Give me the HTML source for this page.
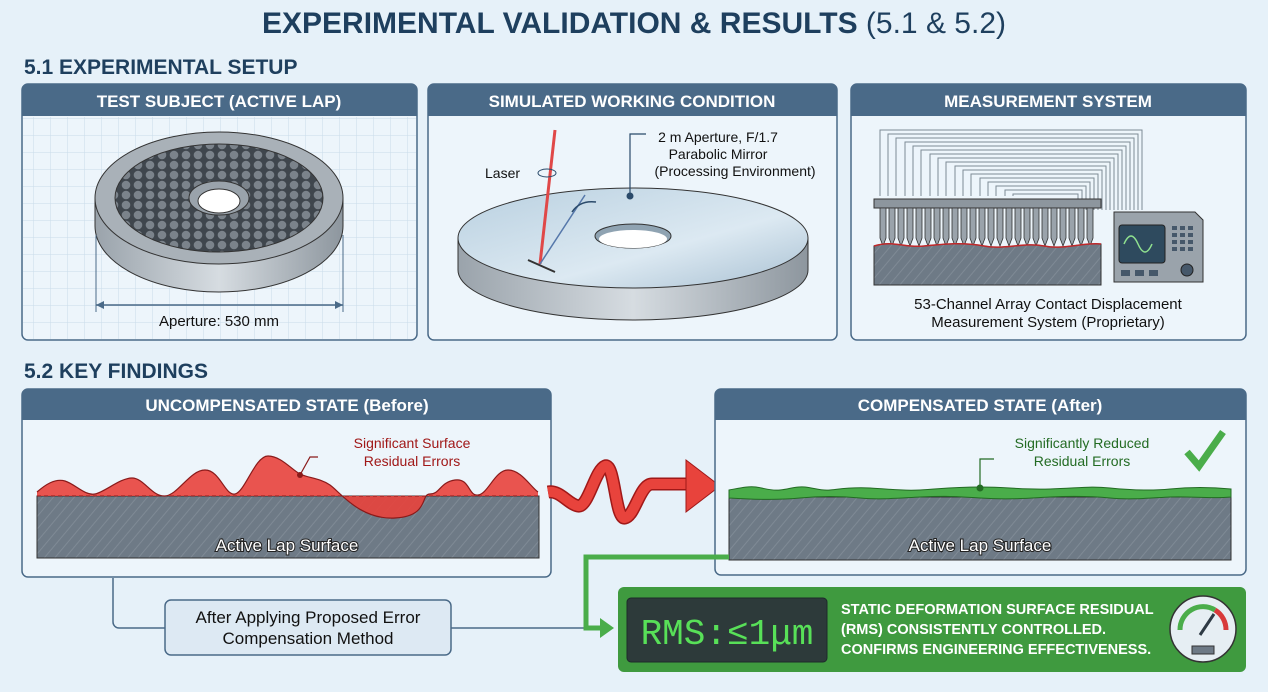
<!DOCTYPE html>
<html><head><meta charset="utf-8"><style>
html,body{margin:0;padding:0;background:#e6f1f9;}
svg{display:block;font-family:"Liberation Sans",sans-serif;}
</style></head><body>
<svg width="1268" height="692" viewBox="0 0 1268 692" xmlns="http://www.w3.org/2000/svg">
<defs>
<pattern id="grid" width="17" height="17" patternUnits="userSpaceOnUse"><path d="M17 0V17H0" fill="none" stroke="#c9dcea" stroke-width="1"/></pattern>
<pattern id="hatch" width="8" height="8" patternUnits="userSpaceOnUse" patternTransform="rotate(40)"><rect width="8" height="8" fill="#6e7a86"/><line x1="0" y1="0" x2="0" y2="8" stroke="#7f8a95" stroke-width="2"/></pattern>
<pattern id="hex" width="12" height="10" patternUnits="userSpaceOnUse"><rect width="12" height="10" fill="#3f464d"/><circle cx="6" cy="5" r="4.3" fill="#7b838b"/></pattern>
<linearGradient id="metal" x1="0" x2="1"><stop offset="0" stop-color="#9aa3ab"/><stop offset=".5" stop-color="#d6dce1"/><stop offset="1" stop-color="#8d969e"/></linearGradient>
<linearGradient id="glass" x1="0" x2="1" y1="0" y2="1"><stop offset="0" stop-color="#b9d0e0"/><stop offset=".6" stop-color="#dce9f2"/><stop offset="1" stop-color="#a8c0d2"/></linearGradient>
</defs>
<rect width="1268" height="692" fill="#e6f1f9"/>
<text x="634" y="33" text-anchor="middle" font-size="30" font-weight="bold" fill="#1e3f5e">EXPERIMENTAL VALIDATION &amp; RESULTS <tspan font-weight="normal">(5.1 &amp; 5.2)</tspan></text>
<text x="24" y="74" font-size="21" font-weight="bold" fill="#1e3f5e">5.1 EXPERIMENTAL SETUP</text>

<!-- panel 1 -->
<rect x="22" y="84" width="395" height="256" rx="6" fill="#edf5fb" stroke="#4a6a88" stroke-width="1.5"/>
<rect x="23" y="117" width="393" height="222" fill="url(#grid)"/>
<path d="M22 116V90a6 6 0 0 1 6-6h383a6 6 0 0 1 6 6v26z" fill="#4a6a88"/>
<text x="219" y="107" text-anchor="middle" font-size="17" font-weight="bold" fill="#fff">TEST SUBJECT (ACTIVE LAP)</text>
<path d="M95 198v28a124 66 0 0 0 248 0v-28z" fill="url(#metal)" stroke="#333" stroke-width="1"/>
<ellipse cx="219" cy="198" rx="124" ry="66" fill="#a9b1b8" stroke="#333"/>
<ellipse cx="219" cy="198" rx="104" ry="54" fill="url(#hex)" stroke="#333"/>
<ellipse cx="219" cy="198" rx="30" ry="17" fill="#9aa3ab" stroke="#333"/>
<ellipse cx="219" cy="201" rx="21" ry="12" fill="#fff" stroke="#333"/>
<line x1="96" y1="305" x2="343" y2="305" stroke="#4a6a88" stroke-width="1.5"/>
<line x1="96" y1="235" x2="96" y2="312" stroke="#4a6a88"/><line x1="343" y1="235" x2="343" y2="312" stroke="#4a6a88"/>
<path d="M96 305l8-4v8zM343 305l-8-4v8z" fill="#4a6a88"/>
<text x="219" y="326" text-anchor="middle" font-size="15" fill="#111">Aperture: 530 mm</text>

<!-- panel 2 -->
<rect x="428" y="84" width="409" height="256" rx="6" fill="#edf5fb" stroke="#4a6a88" stroke-width="1.5"/>
<path d="M428 116V90a6 6 0 0 1 6-6h397a6 6 0 0 1 6 6v26z" fill="#4a6a88"/>
<text x="632" y="107" text-anchor="middle" font-size="17" font-weight="bold" fill="#fff">SIMULATED WORKING CONDITION</text>
<path d="M458 238v32a175 50 0 0 0 350 0v-32z" fill="url(#metal)" stroke="#333"/>
<ellipse cx="633" cy="238" rx="175" ry="50" fill="url(#glass)" stroke="#333"/>
<ellipse cx="633" cy="236" rx="38" ry="12" fill="#8fa3b2" stroke="#333"/>
<ellipse cx="633" cy="239" rx="34" ry="9" fill="#fff"/>
<line x1="555" y1="130" x2="540" y2="264" stroke="#e04848" stroke-width="3"/>
<line x1="540" y1="264" x2="585" y2="195" stroke="#5577aa" stroke-width="1.5"/>
<line x1="528" y1="260" x2="555" y2="272" stroke="#333" stroke-width="2"/>
<path d="M572 212q8-12 24-10" fill="none" stroke="#2a4a6a" stroke-width="1.5"/>
<text x="485" y="178" font-size="14" fill="#111">Laser</text>
<ellipse cx="547" cy="173" rx="9" ry="4" fill="none" stroke="#2a4a6a"/>
<path d="M630 196V134h16" fill="none" stroke="#2a4a6a" stroke-width="1.2"/><circle cx="630" cy="196" r="3.5" fill="#2a4a6a"/>
<text x="718" y="142" text-anchor="middle" font-size="14" fill="#111">2 m Aperture, F/1.7</text>
<text x="718" y="159" text-anchor="middle" font-size="14" fill="#111">Parabolic Mirror</text>
<text x="735" y="176" text-anchor="middle" font-size="14" fill="#111">(Processing Environment)</text>

<!-- panel 3 -->
<rect x="851" y="84" width="395" height="256" rx="6" fill="#edf5fb" stroke="#4a6a88" stroke-width="1.5"/>
<path d="M851 116V90a6 6 0 0 1 6-6h383a6 6 0 0 1 6 6v26z" fill="#4a6a88"/>
<text x="1048" y="107" text-anchor="middle" font-size="17" font-weight="bold" fill="#fff">MEASUREMENT SYSTEM</text>
<g fill="none" stroke="#7d8a96" stroke-width="1">
<path d="M880 196V130h262v80"/><path d="M888 196V134h250v76"/><path d="M896 196V138h238v72"/><path d="M905 196V142h225v68"/><path d="M913 196V146h213v64"/><path d="M921 196V150h201v60"/><path d="M930 196V154h188v56"/><path d="M938 196V158h176v52"/><path d="M946 196V162h164v48"/><path d="M955 196V166h151v44"/><path d="M963 196V170h139v40"/><path d="M971 196V174h127v36"/><path d="M980 196V178h114v32"/><path d="M988 196V182h102v28"/><path d="M996 196V186h90v24"/><path d="M1005 196V190h77v20"/><path d="M1013 196V194h65v16"/>
</g>
<rect x="874" y="199" width="227" height="9" fill="#8d969e" stroke="#333"/>
<g fill="#9aa3ab" stroke="#333" stroke-width=".8">
<path d="M880 208h6v30l-3 8-3-8z"/><path d="M889 208h6v30l-3 8-3-8z"/><path d="M898 208h6v30l-3 8-3-8z"/><path d="M907 208h6v30l-3 8-3-8z"/><path d="M916 208h6v30l-3 8-3-8z"/><path d="M925 208h6v30l-3 8-3-8z"/><path d="M934 208h6v30l-3 8-3-8z"/><path d="M943 208h6v30l-3 8-3-8z"/><path d="M952 208h6v30l-3 8-3-8z"/><path d="M961 208h6v30l-3 8-3-8z"/><path d="M970 208h6v30l-3 8-3-8z"/><path d="M979 208h6v30l-3 8-3-8z"/><path d="M988 208h6v30l-3 8-3-8z"/><path d="M997 208h6v30l-3 8-3-8z"/><path d="M1006 208h6v30l-3 8-3-8z"/><path d="M1015 208h6v30l-3 8-3-8z"/><path d="M1024 208h6v30l-3 8-3-8z"/><path d="M1033 208h6v30l-3 8-3-8z"/><path d="M1042 208h6v30l-3 8-3-8z"/><path d="M1051 208h6v30l-3 8-3-8z"/><path d="M1060 208h6v30l-3 8-3-8z"/><path d="M1069 208h6v30l-3 8-3-8z"/><path d="M1078 208h6v30l-3 8-3-8z"/><path d="M1087 208h6v30l-3 8-3-8z"/>
</g>
<path d="M874 246C894 240 904 248 924 246S964 242 984 246S1024 242 1044 246S1084 242 1101 244V285H874z" fill="url(#hatch)" stroke="#333"/>
<path d="M874 246C894 240 904 248 924 246S964 242 984 246S1024 242 1044 246S1084 242 1101 244" fill="none" stroke="#c0282a" stroke-width="1.5"/>
<path d="M1114 212h81l8 8v62h-89z" fill="#9aa3ab" stroke="#333"/>
<rect x="1119" y="225" width="46" height="38" rx="3" fill="#2e4a5e" stroke="#222"/>
<path d="M1124 244q7-16 14 0t14 0" fill="none" stroke="#8fe08f" stroke-width="1.5"/>
<g fill="#46586a"><rect x="1172" y="226" width="5" height="4"/><rect x="1180" y="226" width="5" height="4"/><rect x="1188" y="226" width="5" height="4"/><rect x="1172" y="233" width="5" height="4"/><rect x="1180" y="233" width="5" height="4"/><rect x="1188" y="233" width="5" height="4"/><rect x="1172" y="240" width="5" height="4"/><rect x="1180" y="240" width="5" height="4"/><rect x="1188" y="240" width="5" height="4"/><rect x="1172" y="247" width="5" height="4"/><rect x="1180" y="247" width="5" height="4"/><rect x="1188" y="247" width="5" height="4"/><rect x="1121" y="270" width="9" height="6"/><rect x="1135" y="270" width="9" height="6"/><rect x="1149" y="270" width="9" height="6"/></g>
<circle cx="1187" cy="270" r="6" fill="#46586a" stroke="#222"/>
<text x="1048" y="309" text-anchor="middle" font-size="15" fill="#111">53-Channel Array Contact Displacement</text>
<text x="1048" y="327" text-anchor="middle" font-size="15" fill="#111">Measurement System (Proprietary)</text>

<text x="24" y="378" font-size="21" font-weight="bold" fill="#1e3f5e">5.2 KEY FINDINGS</text>

<!-- bottom left panel -->
<rect x="22" y="389" width="529" height="188" rx="6" fill="#edf5fb" stroke="#4a6a88" stroke-width="1.5"/>
<path d="M22 420V395a6 6 0 0 1 6-6h517a6 6 0 0 1 6 6v25z" fill="#4a6a88"/>
<text x="287" y="411" text-anchor="middle" font-size="17" font-weight="bold" fill="#fff">UNCOMPENSATED STATE (Before)</text>
<rect x="37" y="496" width="502" height="62" fill="url(#hatch)" stroke="#333"/>
<path d="M37 492C45 485 55 478 65 481S85 496 95 494S120 478 132 478S152 497 165 496S190 470 205 470S225 496 235 494S255 456 268 456S292 470 300 474S320 478 330 485S360 520 395 518S420 494 430 494S440 482 455 480S468 496 478 495S495 470 508 470S530 486 538 492L538 496L37 496Z" fill="#e8433c" opacity=".9"/>
<path d="M37 492C45 485 55 478 65 481S85 496 95 494S120 478 132 478S152 497 165 496S190 470 205 470S225 496 235 494S255 456 268 456S292 470 300 474S320 478 330 485S360 520 395 518S420 494 430 494S440 482 455 480S468 496 478 495S495 470 508 470S530 486 538 492" fill="none" stroke="#8a1a1a" stroke-width="1.2"/>
<line x1="37" y1="496" x2="539" y2="496" stroke="#8a1a1a" stroke-dasharray="4 3"/>
<path d="M300 475l10-18h8" fill="none" stroke="#8a1a1a" stroke-width="1.2"/><circle cx="300" cy="475" r="3" fill="#8a1a1a"/>
<text x="412" y="448" text-anchor="middle" font-size="14" fill="#a01818">Significant Surface</text>
<text x="412" y="466" text-anchor="middle" font-size="14" fill="#a01818">Residual Errors</text>
<text x="287" y="551" text-anchor="middle" font-size="17" fill="#fff" stroke="#222" stroke-width="2" paint-order="stroke">Active Lap Surface</text>

<!-- wavy arrow -->
<path d="M548 492C560 490 568 504 578 506S595 470 605 466S615 520 625 518S640 484 652 484H690" fill="none" stroke="#a01818" stroke-width="13"/>
<path d="M548 492C560 490 568 504 578 506S595 470 605 466S615 520 625 518S640 484 652 484H692" fill="none" stroke="#e8433c" stroke-width="10"/>
<path d="M686 460L720 486L686 512Z" fill="#e8433c" stroke="#a01818"/>

<!-- bottom right panel -->
<rect x="715" y="389" width="531" height="186" rx="6" fill="#edf5fb" stroke="#4a6a88" stroke-width="1.5"/>
<path d="M715 420V395a6 6 0 0 1 6-6h519a6 6 0 0 1 6 6v25z" fill="#4a6a88"/>
<text x="980" y="411" text-anchor="middle" font-size="17" font-weight="bold" fill="#fff">COMPENSATED STATE (After)</text>
<rect x="729" y="497" width="502" height="63" fill="url(#hatch)" stroke="#333"/>
<path d="M729 490C740 488 748 486 756 487S770 491 780 490S795 486 805 487S820 491 830 490S850 487 870 488S900 491 920 490S950 487 980 487S1020 490 1050 489S1090 486 1110 488S1150 491 1170 489S1210 487 1231 489V497C1210 499 1190 496 1170 497S1130 500 1110 498S1070 496 1050 497S1010 500 980 498S940 496 920 497S880 500 860 498S820 496 800 498S760 500 729 498Z" fill="#4aad4a" stroke="#236b23" stroke-width="1"/>
<path d="M980 488V459h14" fill="none" stroke="#236b23" stroke-width="1.2"/><circle cx="980" cy="488" r="3.5" fill="#236b23"/>
<text x="1082" y="448" text-anchor="middle" font-size="14" fill="#236b23">Significantly Reduced</text>
<text x="1082" y="466" text-anchor="middle" font-size="14" fill="#236b23">Residual Errors</text>
<path d="M1187 452l12 14 24-34" fill="none" stroke="#4aad4a" stroke-width="7"/>
<text x="980" y="551" text-anchor="middle" font-size="17" fill="#fff" stroke="#222" stroke-width="2" paint-order="stroke">Active Lap Surface</text>

<!-- connectors -->
<path d="M113 578V622a6 6 0 0 0 6 6h46" fill="none" stroke="#4a6a88" stroke-width="1.5"/>
<line x1="451" y1="628" x2="600" y2="628" stroke="#4a6a88" stroke-width="1.5"/>
<path d="M729 557H586V628h16" fill="none" stroke="#4aad4a" stroke-width="5"/>
<path d="M600 618l14 10-14 10z" fill="#4aad4a"/>
<rect x="165" y="600" width="286" height="55" rx="6" fill="#dde9f3" stroke="#4a6a88" stroke-width="1.5"/>
<text x="308" y="623" text-anchor="middle" font-size="17" fill="#111">After Applying Proposed Error</text>
<text x="308" y="644" text-anchor="middle" font-size="17" fill="#111">Compensation Method</text>

<!-- green result box -->
<rect x="618" y="587" width="628" height="85" rx="6" fill="#3f9a3f"/>
<rect x="627" y="598" width="200" height="64" rx="4" fill="#2d3a3a" stroke="#1d2a2a"/>
<text x="727" y="644" text-anchor="middle" font-size="36" fill="#58e058" font-family="Liberation Mono,monospace">RMS:≤1μm</text>
<text x="841" y="614" font-size="14.5" font-weight="bold" fill="#fff">STATIC DEFORMATION SURFACE RESIDUAL</text>
<text x="841" y="634" font-size="14.5" font-weight="bold" fill="#fff">(RMS) CONSISTENTLY CONTROLLED.</text>
<text x="841" y="654" font-size="14.5" font-weight="bold" fill="#fff">CONFIRMS ENGINEERING EFFECTIVENESS.</text>
<circle cx="1203" cy="629" r="33" fill="#e6eef3" stroke="#333" stroke-width="1.5"/>
<path d="M1180 630a23 23 0 0 1 35-20" fill="none" stroke="#4aad4a" stroke-width="5"/>
<path d="M1215 610a23 23 0 0 1 11 20" fill="none" stroke="#d83a3a" stroke-width="5"/>
<line x1="1200" y1="635" x2="1214" y2="614" stroke="#2e3a44" stroke-width="3"/>
<rect x="1192" y="646" width="22" height="8" fill="#6e7a86" stroke="#333"/>
</svg>
</body></html>
